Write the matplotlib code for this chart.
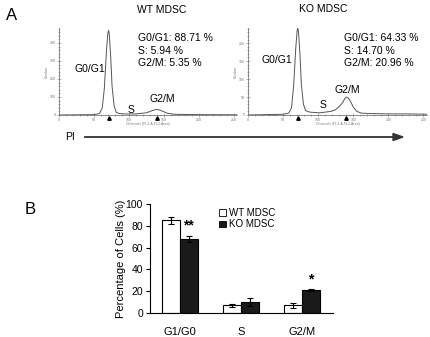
import matplotlib.pyplot as plt
from matplotlib.patches import Patch

plt.rcParams['font.family'] = ['Liberation Sans', 'DejaVu Sans']

W, H = 430, 337

# --- panel A: DNA content histograms (channel, count) ---
wt_ch = [0, 50, 58, 62, 65, 68, 70, 71, 72, 74, 76, 79, 82, 86, 95, 110, 125,
         132, 138, 142, 148, 155, 165, 200, 255]
wt_cnt = [0, 2, 8, 40, 150, 360, 455, 470, 450, 330, 160, 50, 15, 8, 6, 6, 12,
          22, 30, 30, 22, 10, 4, 2, 1]
ko_ch = [0, 50, 58, 62, 65, 68, 70, 71, 72, 74, 76, 79, 82, 88, 95, 102, 110,
         118, 124, 128, 132, 135, 138, 140, 143, 146, 150, 155, 162, 175, 200, 230, 255]
ko_cnt = [0, 2, 5, 20, 80, 185, 235, 242, 230, 170, 85, 30, 12, 8, 7, 6, 8,
          10, 14, 20, 28, 35, 46, 50, 47, 38, 22, 10, 5, 4, 3, 3, 2]
gate_marks = [71, 140]

wt_stats = ["G0/G1: 88.71 %", "S: 5.94 %", "G2/M: 5.35 %"]
ko_stats = ["G0/G1: 64.33 %", "S: 14.70 %", "G2/M: 20.96 %"]

# --- panel B: percentage of cells ---
phases = ["G1/G0", "S", "G2/M"]
wt_pct = [85, 7, 7]
wt_err = [3, 1.5, 2]
ko_pct = [68, 10, 21]
ko_err = [3, 4, 1]
stars = ["**", "", "*"]


def box(x0, y0, x1, y1):
    return [x0 / W, 1 - y1 / H, (x1 - x0) / W, (y1 - y0) / H]


def ftext(x, y, s, **kw):
    fig.text(x / W, 1 - y / H, s, **kw)


fig = plt.figure(figsize=(4.3, 3.37), dpi=100)


def histogram(rect, ch, cnt, ymax, ymajor, yminor):
    ax = fig.add_axes(rect)
    ax.plot(ch, cnt, color='#555555', lw=0.7)
    ax.set_xlim(0, 255)
    ax.set_ylim(0, ymax)
    for s in ['top', 'right']:
        ax.spines[s].set_visible(False)
    for s in ['left', 'bottom']:
        ax.spines[s].set_color('#777777')
        ax.spines[s].set_linewidth(0.6)
    ax.set_xticks(range(0, 251, 50))
    ax.set_xticks(range(0, 256, 10), minor=True)
    ax.set_yticks(ymajor)
    ax.set_yticks(yminor, minor=True)
    ax.tick_params(which='both', direction='inout', colors='#777777',
                   labelsize=2.5, width=0.4, pad=1)
    ax.tick_params(which='major', length=2.5)
    ax.tick_params(which='minor', length=1.5)
    ax.set_xlabel("Channels (FL2-A-FL2-Area)", fontsize=2.5, color='#777777', labelpad=0)
    ax.set_ylabel("Number", fontsize=2.5, color='#777777', labelpad=1)
    ax.plot(gate_marks, [-0.035 * ymax] * len(gate_marks), '^', color='black',
            ms=2.5, clip_on=False)
    ax.patch.set_alpha(0)
    return ax


histogram(box(59, 28, 237, 115), wt_ch, wt_cnt, 483,
          range(0, 401, 100), range(0, 481, 20))
histogram(box(248, 28, 427, 115), ko_ch, ko_cnt, 242,
          range(0, 201, 50), range(0, 241, 10))

ftext(12, 15, "A", fontsize=12, ha='center', va='center')
ftext(162, 10, "WT MDSC", fontsize=7.5, ha='center', va='center')
ftext(323, 9, "KO MDSC", fontsize=7.5, ha='center', va='center')

ftext(90, 69, "G0/G1", fontsize=7.5, ha='center', va='center')
ftext(131, 110, "S", fontsize=7.5, ha='center', va='center')
ftext(162, 99, "G2/M", fontsize=7.5, ha='center', va='center')
ftext(277, 60, "G0/G1", fontsize=7.5, ha='center', va='center')
ftext(323, 105, "S", fontsize=7.5, ha='center', va='center')
ftext(347, 90, "G2/M", fontsize=7.5, ha='center', va='center')

for i, s in enumerate(wt_stats):
    ftext(138, 38 + 12.5 * i, s, fontsize=7.5, va='center')
for i, s in enumerate(ko_stats):
    ftext(344, 38 + 12.5 * i, s, fontsize=7.5, va='center')

# PI arrow
ftext(70, 137, "PI", fontsize=7.5, ha='center', va='center')
fig.add_artist(plt.Line2D([85 / W, 395 / W], [1 - 137 / H] * 2, color='#333333', lw=1.3))
fig.add_artist(plt.Polygon([[393 / W, 1 - 133.5 / H], [403 / W, 1 - 137 / H],
                            [393 / W, 1 - 140.5 / H]], closed=True, color='#333333'))

# --- panel B ---
ftext(30, 210, "B", fontsize=12, ha='center', va='center')
ax = fig.add_axes(box(150, 204, 333, 313))
x = list(range(len(phases)))
bw = 0.29
ekw = dict(elinewidth=0.8, capthick=0.8)
ax.bar([i - bw / 2 for i in x], wt_pct, bw, yerr=wt_err, color='white',
       edgecolor='black', linewidth=0.8, capsize=2.5, error_kw=ekw, label="WT MDSC")
ax.bar([i + bw / 2 for i in x], ko_pct, bw, yerr=ko_err, color='#1a1a1a',
       edgecolor='black', linewidth=0.8, capsize=2.5, error_kw=ekw, label="KO MDSC")
for i, s in enumerate(stars):
    if s:
        ax.text(i + bw / 2, ko_pct[i] + ko_err[i] + 2.5, s, ha='center', va='bottom',
                fontsize=10, fontweight='bold')
ax.set_xlim(-0.49, 2.51)
ax.set_ylim(0, 100)
ax.set_yticks(range(0, 101, 20))
ax.set_xticks(x)
ax.set_xticklabels(phases, fontsize=8)
ax.tick_params(axis='x', length=0, pad=10)
ax.tick_params(axis='y', labelsize=7.5, length=3, width=0.8, pad=2)
for s in ['top', 'right']:
    ax.spines[s].set_visible(False)
for s in ['left', 'bottom']:
    ax.spines[s].set_linewidth(0.8)
ax.set_ylabel("Percentage of Cells (%)", fontsize=8, labelpad=0)
handles = [Patch(facecolor='white', edgecolor='black', lw=0.6, label="WT MDSC"),
           Patch(facecolor='#1a1a1a', edgecolor='black', lw=0.6, label="KO MDSC")]
ax.legend(handles=handles, loc='upper left', bbox_to_anchor=(214 / W, 1 - 203 / H),
          bbox_transform=fig.transFigure, frameon=False, fontsize=7, handlelength=0.7,
          handleheight=0.7, handletextpad=0.3, labelspacing=0.15, borderpad=0)

fig.savefig("out.png", dpi=100)
